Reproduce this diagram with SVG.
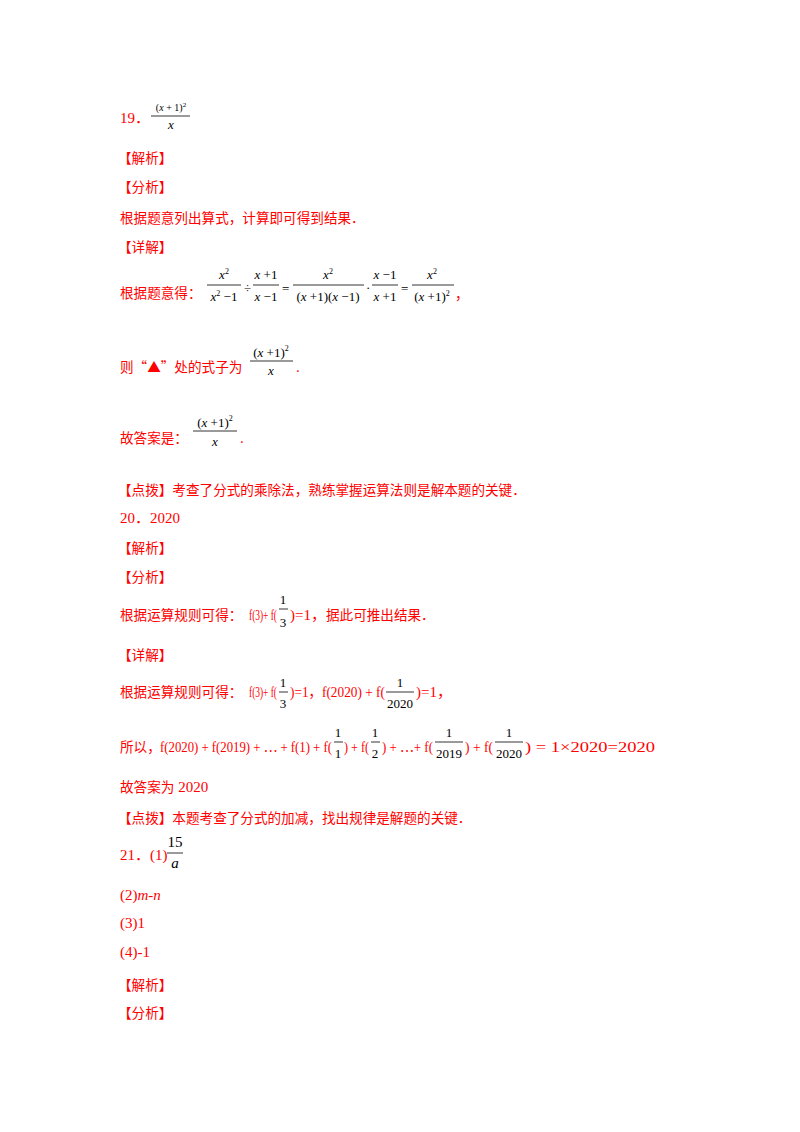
<svg xmlns="http://www.w3.org/2000/svg" width="800" height="1132" viewBox="0 0 800 1132">
<style>
text{font-family:"Liberation Serif","Noto Sans CJK SC",serif;font-size:15px}
.r{fill:#ff0000}
.c{font-family:"Noto Sans CJK SC",sans-serif;font-size:13.6px}
.m{fill:#000}
.i{font-style:italic}
.s{font-size:13px}
.t{font-size:10px}
line{stroke:#000;stroke-width:0.8}
</style>
<rect width="800" height="1132" fill="#fff"/>
<g id="q19">
<text x="120" y="123" class="r">19．</text>
<text x="171" y="111" class="m t" text-anchor="middle">(<tspan class="i">x</tspan> + 1)<tspan dy="-4" font-size="7">2</tspan></text>
<line x1="151" y1="116" x2="190" y2="116"/>
<text x="171" y="129" class="m s i" text-anchor="middle">x</text>
<text x="118" y="163" class="r c">【解析】</text>
<text x="118" y="192" class="r c">【分析】</text>
<text x="120" y="223" class="r c">根据题意列出算式，计算即可得到结果．</text>
<text x="118" y="252" class="r c">【详解】</text>
<text x="120" y="298" class="r c">根据题意得：</text>
<g class="m">
<text x="224" y="279" class="s" text-anchor="middle"><tspan class="i">x</tspan><tspan dy="-5" font-size="8">2</tspan></text>
<line x1="207" y1="285" x2="241" y2="285"/>
<text x="224" y="301" class="s" text-anchor="middle"><tspan class="i">x</tspan><tspan dy="-5" font-size="8">2</tspan><tspan dy="5"> −1</tspan></text>
<text x="244" y="292" class="s">÷</text>
<text x="266" y="279" class="s" text-anchor="middle"><tspan class="i">x</tspan> +1</text>
<line x1="253" y1="285" x2="279" y2="285"/>
<text x="266" y="301" class="s" text-anchor="middle"><tspan class="i">x</tspan> −1</text>
<text x="282" y="293" class="s">=</text>
<text x="328" y="279" class="s" text-anchor="middle"><tspan class="i">x</tspan><tspan dy="-5" font-size="8">2</tspan></text>
<line x1="293" y1="285" x2="364" y2="285"/>
<text x="328" y="301" class="s" text-anchor="middle">(<tspan class="i">x</tspan> +1)(<tspan class="i">x</tspan> −1)</text>
<text x="366" y="292" class="s">·</text>
<text x="385" y="279" class="s" text-anchor="middle"><tspan class="i">x</tspan> −1</text>
<line x1="372" y1="285" x2="398" y2="285"/>
<text x="385" y="301" class="s" text-anchor="middle"><tspan class="i">x</tspan> +1</text>
<text x="401" y="293" class="s">=</text>
<text x="432" y="279" class="s" text-anchor="middle"><tspan class="i">x</tspan><tspan dy="-5" font-size="8">2</tspan></text>
<line x1="412" y1="285" x2="454" y2="285"/>
<text x="432" y="301" class="s" text-anchor="middle">(<tspan class="i">x</tspan> +1)<tspan dy="-5" font-size="8">2</tspan></text>
</g>
<text x="455" y="299" class="r c">，</text>
<text x="120" y="372" class="r c">则“▲”处的式子为</text>
<text x="271" y="357" class="m s" text-anchor="middle">(<tspan class="i">x</tspan> +1)<tspan dy="-6" font-size="8">2</tspan></text>
<line x1="250" y1="361" x2="293" y2="361"/>
<text x="271" y="375" class="m s i" text-anchor="middle">x</text>
<text x="296" y="372" class="r c">.</text>
<text x="120" y="443" class="r c">故答案是：</text>
<text x="215" y="427" class="m s" text-anchor="middle">(<tspan class="i">x</tspan> +1)<tspan dy="-6" font-size="8">2</tspan></text>
<line x1="193" y1="431" x2="237" y2="431"/>
<text x="215" y="446" class="m s i" text-anchor="middle">x</text>
<text x="240" y="443" class="r c">.</text>
<text x="118" y="495" class="r c">【点拨】考查了分式的乘除法，熟练掌握运算法则是解本题的关键．</text>
</g>
<g id="q20">
<text x="120" y="523" class="r">20．2020</text>
<text x="118" y="553" class="r c">【解析】</text>
<text x="118" y="582" class="r c">【分析】</text>
<text x="120" y="620" class="r c">根据运算规则可得：</text>
<text x="249" y="620" class="r" textLength="28" lengthAdjust="spacingAndGlyphs">f(3)+ f(</text>
<text x="283" y="604" class="m s" text-anchor="middle">1</text>
<line x1="279" y1="609" x2="288" y2="609"/>
<text x="283" y="627" class="m s" text-anchor="middle">3</text>
<text x="290" y="620" class="r">)=1，<tspan class="c">据此可推出结果．</tspan></text>
<text x="118" y="660" class="r c">【详解】</text>
<text x="120" y="697" class="r c">根据运算规则可得：</text>
<text x="249" y="697" class="r" textLength="28" lengthAdjust="spacingAndGlyphs">f(3)+ f(</text>
<text x="283" y="687" class="m s" text-anchor="middle">1</text>
<line x1="279" y1="692" x2="288" y2="692"/>
<text x="283" y="708" class="m s" text-anchor="middle">3</text>
<text x="290" y="697" class="r" textLength="95" lengthAdjust="spacingAndGlyphs">)=1，f(2020) + f(</text>
<text x="400" y="687" class="m s" text-anchor="middle">1</text>
<line x1="386" y1="692" x2="414" y2="692"/>
<text x="400" y="708" class="m s" text-anchor="middle">2020</text>
<text x="416" y="697" class="r">)=1，</text>
<text x="120" y="752" class="r c">所以，</text>
<text x="160" y="752" class="r" textLength="172" lengthAdjust="spacingAndGlyphs">f(2020) + f(2019) + ⋯ + f(1) + f(</text>
<text x="338" y="737" class="m s" text-anchor="middle">1</text>
<line x1="334" y1="742" x2="343" y2="742"/>
<text x="338" y="758" class="m s" text-anchor="middle">1</text>
<text x="344" y="752" class="r" textLength="25" lengthAdjust="spacingAndGlyphs">) + f(</text>
<text x="375" y="737" class="m s" text-anchor="middle">1</text>
<line x1="371" y1="742" x2="380" y2="742"/>
<text x="375" y="758" class="m s" text-anchor="middle">2</text>
<text x="382" y="752" class="r" textLength="51" lengthAdjust="spacingAndGlyphs">) + ⋯+ f(</text>
<text x="449" y="737" class="m s" text-anchor="middle">1</text>
<line x1="435" y1="742" x2="463" y2="742"/>
<text x="449" y="758" class="m s" text-anchor="middle">2019</text>
<text x="465" y="752" class="r" textLength="28" lengthAdjust="spacingAndGlyphs">) + f(</text>
<text x="509" y="737" class="m s" text-anchor="middle">1</text>
<line x1="495" y1="742" x2="523" y2="742"/>
<text x="509" y="758" class="m s" text-anchor="middle">2020</text>
<text x="525" y="752" class="r" textLength="130" lengthAdjust="spacingAndGlyphs">) = 1×2020=2020</text>
<text x="120" y="792" class="r"><tspan class="c">故答案为</tspan> 2020</text>
<text x="118" y="823" class="r c">【点拨】本题考查了分式的加减，找出规律是解题的关键．</text>
</g>
<g id="q21">
<text x="120" y="860" class="r">21．(1)</text>
<text x="175" y="847" class="m" text-anchor="middle">15</text>
<line x1="167" y1="853" x2="183" y2="853"/>
<text x="175" y="868" class="m i" text-anchor="middle">a</text>
<text x="120" y="900" class="r">(2)<tspan class="i">m</tspan>-<tspan class="i">n</tspan></text>
<text x="120" y="928" class="r">(3)1</text>
<text x="120" y="957" class="r">(4)-1</text>
<text x="118" y="990" class="r c">【解析】</text>
<text x="118" y="1018" class="r c">【分析】</text>
</g>
</svg>
